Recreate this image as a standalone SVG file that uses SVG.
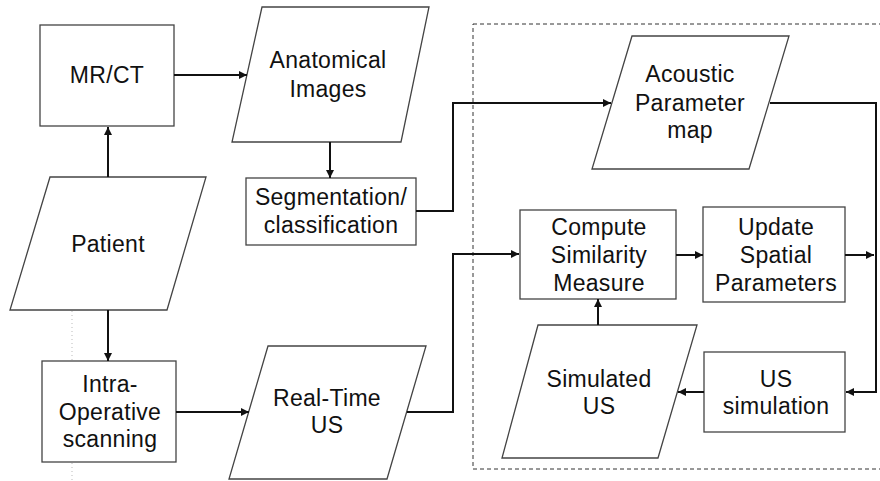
<svg xmlns="http://www.w3.org/2000/svg" width="880" height="481" viewBox="0 0 880 481">
<style>
.shape{fill:#fff;stroke:#444;stroke-width:1.3}
.conn{fill:none;stroke:#111;stroke-width:2}
.lbl{font-family:"Liberation Sans",Arial,sans-serif;font-size:23px;letter-spacing:0.3px;fill:#111;text-anchor:middle}
.frame{fill:none;stroke:#333;stroke-width:1;stroke-dasharray:4 3}
</style>
<defs>
<marker id="ah" viewBox="0 0 10 10" refX="10" refY="5" markerWidth="9" markerHeight="8" markerUnits="userSpaceOnUse" orient="auto">
<path d="M0,0 L10,5 L0,10 z" fill="#111"/>
</marker>
</defs>
<rect width="880" height="481" fill="#fff"/>
<line x1="72" y1="267" x2="72" y2="481" stroke="#bbb" stroke-width="1" stroke-dasharray="1 3"/>
<rect class="frame" x="473" y="24" width="420" height="445"/>
<g id="mrct">
<rect class="shape" x="40" y="25" width="134" height="101"/>
<text class="lbl" x="107" y="83">MR/CT</text>
</g>
<g id="anatomical">
<polygon class="shape" points="262,7 429,7 401,142 232,142"/>
<text class="lbl" x="328" y="68">Anatomical</text>
<text class="lbl" x="328" y="97">Images</text>
</g>
<g id="segmentation">
<rect class="shape" x="246" y="178" width="170" height="67"/>
<text class="lbl" x="331" y="205">Segmentation/</text>
<text class="lbl" x="331" y="233">classification</text>
</g>
<g id="patient">
<polygon class="shape" points="50,177 206,177 167,310 10,310"/>
<text class="lbl" x="108" y="252">Patient</text>
</g>
<g id="intra">
<rect class="shape" x="42" y="361" width="134" height="101"/>
<text class="lbl" x="110" y="392">Intra-</text>
<text class="lbl" x="110" y="420">Operative</text>
<text class="lbl" x="110" y="447">scanning</text>
</g>
<g id="realtime">
<polygon class="shape" points="268,346 426,346 387,479 229,479"/>
<text class="lbl" x="327" y="406">Real-Time</text>
<text class="lbl" x="327" y="433">US</text>
</g>
<g id="acoustic">
<polygon class="shape" points="632,36 789,36 749,169 592,169"/>
<text class="lbl" x="690" y="82">Acoustic</text>
<text class="lbl" x="690" y="111">Parameter</text>
<text class="lbl" x="690" y="138">map</text>
</g>
<g id="compute">
<rect class="shape" x="520" y="210" width="156" height="89"/>
<text class="lbl" x="599" y="235">Compute</text>
<text class="lbl" x="599" y="263">Similarity</text>
<text class="lbl" x="599" y="291">Measure</text>
</g>
<g id="update">
<rect class="shape" x="703" y="207" width="142" height="95"/>
<text class="lbl" x="776" y="235">Update</text>
<text class="lbl" x="776" y="263">Spatial</text>
<text class="lbl" x="776" y="291">Parameters</text>
</g>
<g id="simulated">
<polygon class="shape" points="538,325 697,325 658,458 502,458"/>
<text class="lbl" x="599" y="387">Simulated</text>
<text class="lbl" x="599" y="414">US</text>
</g>
<g id="ussim">
<rect class="shape" x="704" y="352" width="141" height="80"/>
<text class="lbl" x="776" y="387">US</text>
<text class="lbl" x="776" y="414">simulation</text>
</g>
<g id="connectors">
<path class="conn" d="M174,75 H247" marker-end="url(#ah)"/>
<path class="conn" d="M108,177 V127" marker-end="url(#ah)"/>
<path class="conn" d="M330,142 V178" marker-end="url(#ah)"/>
<path class="conn" d="M108,310 V361" marker-end="url(#ah)"/>
<path class="conn" d="M176,412 H249" marker-end="url(#ah)"/>
<path class="conn" d="M416,211 H453 V103 H611" marker-end="url(#ah)"/>
<path class="conn" d="M407,412 H453 V254 H519" marker-end="url(#ah)"/>
<path class="conn" d="M770,103 H876 V392 H846" marker-end="url(#ah)"/>
<path class="conn" d="M676,255 H703" marker-end="url(#ah)"/>
<path class="conn" d="M845,255 H874" marker-end="url(#ah)"/>
<path class="conn" d="M598,325 V299" marker-end="url(#ah)"/>
<path class="conn" d="M704,392 H678" marker-end="url(#ah)"/>
</g>
</svg>
